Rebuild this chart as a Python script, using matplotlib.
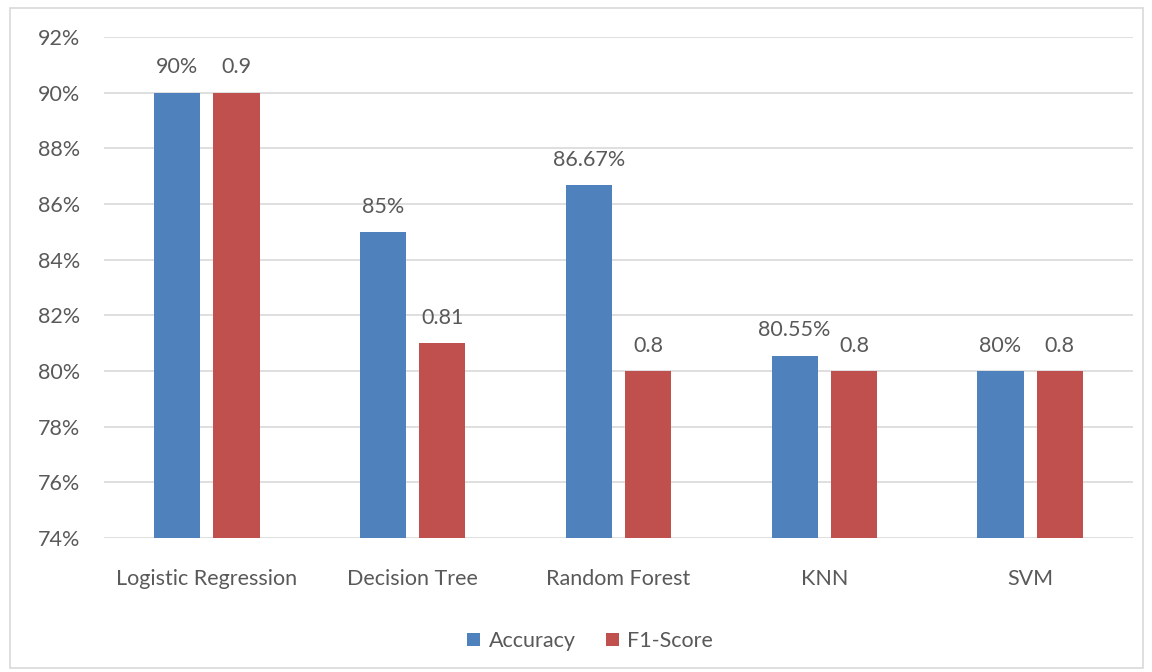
import numpy as np
import matplotlib
matplotlib.use("Agg")
import matplotlib.pyplot as plt
from matplotlib.patches import Rectangle
from matplotlib.ticker import FuncFormatter

models = ["Logistic Regression", "Decision Tree", "Random Forest", "KNN", "SVM"]
accuracy = [90, 85, 86.67, 80.55, 80]
f1_score = [0.9, 0.81, 0.8, 0.8, 0.8]
acc_labels = ["90%", "85%", "86.67%", "80.55%", "80%"]
f1_labels = ["0.9", "0.81", "0.8", "0.8", "0.8"]

plt.rcParams['font.family'] = ['Lato', 'DejaVu Sans']
text_col = '#595959'
blue = '#4F81BD'
red = '#C0504D'
fs = 15.5

fig = plt.figure(figsize=(11.52, 6.72), dpi=100)
# outer chart border
fig.patches.append(Rectangle((10/1152, 4/672), 1133/1152, 660/672, transform=fig.transFigure,
                             fill=False, edgecolor='#D9D9D9', linewidth=1.2))
ax = fig.add_axes([104/1152, 0.1994, 1029/1152, 0.7455])

x = np.arange(len(models))
w = 0.224
off = 0.144
# F1 score is plotted on the same percent scale
f1_pct = [v * 100 for v in f1_score]
b1 = ax.bar(x - off, accuracy, w, color=blue, label='Accuracy', zorder=3)
b2 = ax.bar(x + off, f1_pct, w, color=red, label='F1-Score', zorder=3)

for rect, lab in zip(b1, acc_labels):
    ax.text(rect.get_x() + rect.get_width() / 2, rect.get_height() + 0.55, lab,
            ha='center', va='bottom', fontsize=fs, color=text_col)
for rect, lab in zip(b2, f1_labels):
    ax.text(rect.get_x() + rect.get_width() / 2, rect.get_height() + 0.55, lab,
            ha='center', va='bottom', fontsize=fs, color=text_col)

ax.set_ylim(74, 92)
ax.set_xlim(-0.5, len(models) - 0.5)
ax.set_yticks(np.arange(74, 93, 2))
ax.yaxis.set_major_formatter(FuncFormatter(lambda v, p: f"{v:.0f}%"))
ax.set_xticks(x)
ax.set_xticklabels(models)
ax.tick_params(axis='both', length=0, labelsize=fs, labelcolor=text_col)
ax.tick_params(axis='x', pad=22)
ax.tick_params(axis='y', pad=17)
ax.grid(axis='y', color='#D9D9D9', linewidth=1.2, zorder=0)
for s in ax.spines.values():
    s.set_visible(False)

leg = fig.legend(handles=[b1, b2], loc='center', bbox_to_anchor=(590/1152, 1 - 641/672), ncol=2,
                 frameon=False, fontsize=fs, handlelength=0.6, handleheight=0.6,
                 handletextpad=0.4, columnspacing=1.4)
for t in leg.get_texts():
    t.set_color(text_col)

fig.savefig('out.png', dpi=100)
